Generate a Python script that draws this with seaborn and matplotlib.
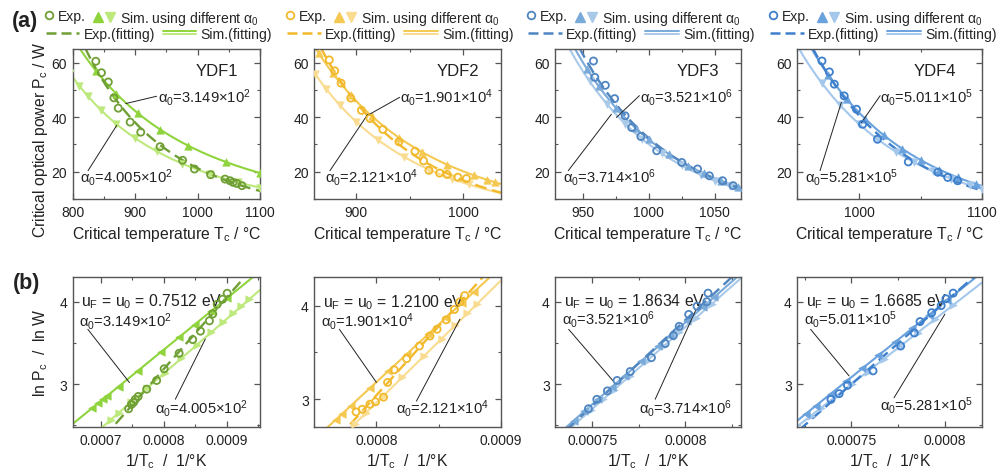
import numpy as np
import matplotlib
matplotlib.use("Agg")
import matplotlib.pyplot as plt
import seaborn as sns
from matplotlib.lines import Line2D
from matplotlib.legend_handler import HandlerBase, HandlerTuple
from matplotlib.ticker import MultipleLocator, FuncFormatter

sns.set_theme(style="ticks")
plt.rcParams["font.family"] = ["Liberation Sans", "DejaVu Sans"]
plt.rcParams["mathtext.fontset"] = "custom"
plt.rcParams["mathtext.rm"] = "Liberation Sans"
plt.rcParams["mathtext.it"] = "Liberation Sans:italic"

# ---------------- data (T in degC, P in W) ----------------
names = ["YDF1", "YDF2", "YDF3", "YDF4"]

exp_T1 = [837, 846, 857, 866, 873, 892, 909, 940, 976, 995, 1021, 1044, 1052, 1057, 1063, 1071]
exp_P1 = [60.5, 56.3, 52.9, 47.1, 43.3, 38.2, 34.5, 29.2, 24.2, 21.0, 18.9, 17.3, 16.7, 16.1, 15.7, 14.9]
simA_T1 = [838, 870, 905, 940, 985, 1045, 1100, 1135, 1150, 1165, 1185]
simA_P1 = [56.8, 48.6, 41.4, 35.4, 29.6, 23.6, 19.5, 17.4, 16.7, 15.9, 15.1]
simB_T1 = [795, 810, 825, 845, 870, 900, 935, 975, 1020, 1065, 1100, 1125]
simB_P1 = [56.2, 51.6, 47.7, 42.6, 37.6, 32.3, 27.5, 23.0, 19.1, 16.1, 14.2, 13.0]

exp_T2 = [875, 880, 886, 895, 905, 913, 925, 940, 955, 963, 968, 978, 985, 995, 1003]
exp_P2 = [61.0, 57.0, 52.5, 47.0, 42.5, 39.5, 35.5, 31.0, 27.5, 24.0, 20.5, 19.5, 19.0, 18.0, 17.5]
simA_T2 = [865, 878, 895, 915, 940, 962, 985, 1010, 1022, 1030]
simA_P2 = [63.6, 56.2, 48.1, 40.3, 32.5, 27.1, 22.6, 18.7, 17.1, 16.1]
simB_T2 = [862, 872, 885, 900, 920, 945, 968, 990, 1005]
simB_P2 = [55.8, 50.4, 44.3, 38.4, 31.8, 25.4, 20.8, 17.3, 15.4]

exp_T3 = [958, 959, 967, 974, 982, 987, 994, 1006, 1025, 1037, 1046, 1056, 1064]
exp_P3 = [60.6, 54.6, 51.7, 46.8, 40.5, 36.2, 32.9, 27.7, 23.4, 21.0, 18.5, 16.7, 14.9]
simA_T3 = [953, 962, 975, 990, 1000, 1015, 1030, 1042, 1055, 1068, 1078]
simA_P3 = [57.7, 51.3, 43.4, 35.9, 31.9, 26.5, 22.2, 19.4, 16.7, 14.5, 12.9]
simB_T3 = [955, 968, 982, 995, 1010, 1025, 1040, 1050, 1062]
simB_P3 = [53.1, 44.9, 37.6, 32.0, 26.7, 22.3, 18.7, 16.7, 14.6]

exp_T4 = [970, 976, 980, 988, 998, 1003, 1015, 1040, 1064, 1072, 1080]
exp_P4 = [60.6, 56.6, 52.1, 47.8, 42.9, 37.4, 31.9, 23.6, 19.8, 17.9, 16.7]
simA_T4 = [975, 990, 1005, 1020, 1035, 1050, 1065, 1080, 1095, 1105]
simA_P4 = [55.5, 46.7, 39.5, 33.4, 28.5, 24.3, 20.8, 17.9, 15.5, 14.0]
simB_T4 = [970, 985, 1000, 1015, 1030, 1045, 1060, 1075, 1090, 1100]
simB_P4 = [52.5, 44.3, 37.5, 31.9, 27.3, 23.4, 20.1, 17.4, 15.0, 13.7]

alpha_A = [r"3.149×10$^\mathregular{2}$", r"1.901×10$^\mathregular{4}$",
           r"3.521×10$^\mathregular{6}$", r"5.011×10$^\mathregular{5}$"]
alpha_B = [r"4.005×10$^\mathregular{2}$", r"2.121×10$^\mathregular{4}$",
           r"3.714×10$^\mathregular{6}$", r"5.281×10$^\mathregular{5}$"]
u_vals = ["0.7512", "1.2100", "1.8634", "1.6685"]

c_exp = ["#6f9f35", "#f1b92c", "#4f85c0", "#3f80cc"]
c_simA = ["#8fd43c", "#f5c851", "#79aad9", "#6aa2dd"]
c_simB = ["#bde97c", "#f9dc90", "#a9c9e8", "#a4c7ec"]

exp_T = [exp_T1, exp_T2, exp_T3, exp_T4]
exp_P = [exp_P1, exp_P2, exp_P3, exp_P4]
simA_T = [simA_T1, simA_T2, simA_T3, simA_T4]
simA_P = [simA_P1, simA_P2, simA_P3, simA_P4]
simB_T = [simB_T1, simB_T2, simB_T3, simB_T4]
simB_P = [simB_P1, simB_P2, simB_P3, simB_P4]

top_xlim = [(800, 1100), (861, 1035), (929, 1070), (950, 1100)]
top_major = [100, 100, 50, 100]
bot_xlim = [(0.000655, 0.000953), (0.00075, 0.0009), (0.00073, 0.00083), (0.000721, 0.00082)]
bot_ylim = [(2.48, 4.3), (2.70, 4.31), (2.48, 4.3), (2.48, 4.3)]
bot_major = [0.0001, 0.0001, 0.00005, 0.00005]

T0 = 273.15


def inv(T):
    return 1.0 / (np.asarray(T, float) + T0)


# ---------------- legend helper ----------------
class DoubleLine:
    def __init__(self, c1, c2):
        self.c1, self.c2 = c1, c2


class HandlerDouble(HandlerBase):
    def create_artists(self, legend, orig, xdescent, ydescent, width, height, fontsize, trans):
        y = (height - ydescent) / 2.0
        g = height * 0.16
        x = [-xdescent, -xdescent + width]
        l1 = Line2D(x, [y + g, y + g], color=orig.c1, lw=1.4, transform=trans)
        l2 = Line2D(x, [y - g, y - g], color=orig.c2, lw=1.4, transform=trans)
        return [l1, l2]


W, H = 1003.0, 477.0
fig = plt.figure(figsize=(10.03, 4.77), dpi=100)
lefts = [72.7, 314.3, 555.3, 797.3]
widths = [187.3, 186.4, 185.7, 185.0]

spine_c = "#555555"
txt_c = "#222222"
fs_tick = 10
fs_lab = 11.3
fs_ann = 10.6
fs_leg = 10.1

top_ann = [
    [(0.455, 0.68), (0.448, 0.685), (885, 45.0), (0.04, 0.153), (0.082, 0.189), (870.5, 37.0)],
    [(0.46, 0.68), (0.458, 0.678), (910, 40.5), (0.057, 0.153), (0.084, 0.189), (911, 41.1)],
    [(0.457, 0.68), (0.453, 0.689), (975.4, 39.9), (0.041, 0.153), (0.07, 0.189), (971.6, 41.1)],
    [(0.447, 0.68), (0.448, 0.689), (1002, 38.0), (0.041, 0.153), (0.123, 0.189), (985.7, 45.4)],
]
bot_ann = [
    [(0.045, 0.84), (0.036, 0.713), (0.081, 0.651), (0.0007452, 3.02), (0.44, 0.133), (0.548, 0.185), (0.000866, 3.547)],
    [(0.045, 0.833), (0.036, 0.713), (0.135, 0.651), (0.0008, 3.178), (0.44, 0.127), (0.548, 0.173), (0.0008672, 3.857)],
    [(0.045, 0.84), (0.036, 0.72), (0.072, 0.651), (0.0007611, 3.04), (0.45, 0.127), (0.538, 0.185), (0.0008059, 3.911)],
    [(0.047, 0.84), (0.035, 0.72), (0.072, 0.651), (0.0007487, 3.10), (0.446, 0.153), (0.523, 0.195), (0.0008, 3.85)],
]


def style_axes(ax):
    for s in ax.spines.values():
        s.set_color(spine_c)
        s.set_linewidth(1.0)
    ax.tick_params(which="both", direction="in", top=True, right=True, colors=spine_c,
                   labelcolor=txt_c, labelsize=fs_tick, pad=4)
    ax.tick_params(which="major", length=4, width=0.9)
    ax.tick_params(which="minor", length=2.5, width=0.8)


def leader(ax, start, target):
    ax.annotate("", xy=target, xycoords="data", xytext=start, textcoords="axes fraction",
                arrowprops=dict(arrowstyle="-", lw=0.7, color=txt_c, shrinkA=0, shrinkB=0))


for i in range(4):
    l, w = lefts[i], widths[i]
    axt = fig.add_axes([l / W, (H - 200) / H, w / W, 150 / H])
    axb = fig.add_axes([l / W, (H - 428) / H, w / W, 150 / H])

    eT, eP = np.array(exp_T[i], float), np.array(exp_P[i], float)
    aT, aP = np.array(simA_T[i], float), np.array(simA_P[i], float)
    bT, bP = np.array(simB_T[i], float), np.array(simB_P[i], float)

    fits = {}
    for key, (TT, PP) in {"exp": (eT, eP), "A": (aT, aP), "B": (bT, bP)}.items():
        fits[key] = np.polyfit(inv(TT), np.log(PP), 1)

    # ---------- top panel ----------
    x0, x1 = top_xlim[i]
    Tg = np.linspace(x0 - 40, x1 + 40, 400)
    for key, col, ls, lw in [("B", c_simB[i], "-", 1.5), ("A", c_simA[i], "-", 1.5),
                             ("exp", c_exp[i], (0, (5, 2.5)), 1.7)]:
        sl, ic = fits[key]
        sns.lineplot(x=Tg, y=np.exp(ic + sl * inv(Tg)), ax=axt, color=col, lw=lw,
                     linestyle=ls, estimator=None, sort=False)
    sns.scatterplot(x=bT, y=bP, ax=axt, marker="v", s=28, color=c_simB[i], edgecolor=c_simB[i],
                    linewidth=0.5, zorder=3)
    sns.scatterplot(x=aT, y=aP, ax=axt, marker="^", s=28, color=c_simA[i], edgecolor=c_simA[i],
                    linewidth=0.5, zorder=3)
    sns.scatterplot(x=eT, y=eP, ax=axt, marker="o", s=26, facecolor="none", edgecolor=c_exp[i],
                    linewidth=1.3, zorder=4)
    axt.set_xlim(x0, x1)
    axt.set_ylim(10, 65)
    axt.xaxis.set_major_locator(MultipleLocator(top_major[i]))
    axt.xaxis.set_minor_locator(MultipleLocator(top_major[i] / 2))
    axt.yaxis.set_major_locator(MultipleLocator(20))
    axt.yaxis.set_minor_locator(MultipleLocator(10))
    style_axes(axt)
    axt.set_xlabel(r"Critical temperature T$_\mathregular{c}$ / °C", fontsize=fs_lab, color=txt_c)
    axt.xaxis.set_label_coords(0.5, -0.165)
    axt.xaxis.label.set_va("top")
    axt.set_ylabel("")
    axt.text(0.77 if i < 3 else 0.745, 0.86, names[i], transform=axt.transAxes, ha="center",
             va="center", fontsize=12, color=txt_c)
    ta = top_ann[i]
    axt.text(ta[0][0], ta[0][1], r"α$_\mathregular{0}$=" + alpha_A[i], transform=axt.transAxes,
             ha="left", va="center", fontsize=fs_ann, color=txt_c)
    leader(axt, ta[1], ta[2])
    axt.text(ta[3][0], ta[3][1], r"α$_\mathregular{0}$=" + alpha_B[i], transform=axt.transAxes,
             ha="left", va="center", fontsize=fs_ann, color=txt_c)
    leader(axt, ta[4], ta[5])

    # ---------- bottom panel ----------
    bx0, bx1 = bot_xlim[i]
    xg = np.linspace(bx0 - 0.00003, bx1 + 0.00003, 200)
    for key, col, ls, lw in [("B", c_simB[i], "-", 1.5), ("A", c_simA[i], "-", 1.5),
                             ("exp", c_exp[i], (0, (5, 2.5)), 1.7)]:
        sl, ic = fits[key]
        sns.lineplot(x=xg, y=ic + sl * xg, ax=axb, color=col, lw=lw, linestyle=ls,
                     estimator=None, sort=False)
    sns.scatterplot(x=inv(bT), y=np.log(bP), ax=axb, marker=">", s=28, color=c_simB[i],
                    edgecolor=c_simB[i], linewidth=0.5, zorder=3)
    sns.scatterplot(x=inv(aT), y=np.log(aP), ax=axb, marker="<", s=28, color=c_simA[i],
                    edgecolor=c_simA[i], linewidth=0.5, zorder=3)
    sns.scatterplot(x=inv(eT), y=np.log(eP), ax=axb, marker="o", s=26, facecolor="none",
                    edgecolor=c_exp[i], linewidth=1.3, zorder=4)
    axb.set_xlim(bx0, bx1)
    axb.set_ylim(*bot_ylim[i])
    axb.xaxis.set_major_locator(MultipleLocator(bot_major[i]))
    axb.xaxis.set_minor_locator(MultipleLocator(bot_major[i] / 2))
    axb.xaxis.set_major_formatter(FuncFormatter(lambda v, p: ("%.5f" % v).rstrip("0")))
    axb.yaxis.set_major_locator(MultipleLocator(1))
    axb.yaxis.set_minor_locator(MultipleLocator(0.5))
    axb.yaxis.set_major_formatter(FuncFormatter(lambda v, p: "%g" % v))
    style_axes(axb)
    axb.set_xlabel(r"1/T$_\mathregular{c}$  /  1/°K", fontsize=fs_lab, color=txt_c)
    axb.xaxis.set_label_coords(0.5, -0.16)
    axb.xaxis.label.set_va("top")
    axb.set_ylabel("")
    ba = bot_ann[i]
    axb.text(ba[0][0], ba[0][1], r"u$_\mathregular{F}$ = u$_\mathregular{0}$ = " + u_vals[i] + " eV",
             transform=axb.transAxes, ha="left", va="center", fontsize=11.3, color=txt_c)
    axb.text(ba[1][0], ba[1][1], r"α$_\mathregular{0}$=" + alpha_A[i], transform=axb.transAxes,
             ha="left", va="center", fontsize=fs_ann, color=txt_c)
    leader(axb, ba[2], ba[3])
    axb.text(ba[4][0], ba[4][1], r"α$_\mathregular{0}$=" + alpha_B[i], transform=axb.transAxes,
             ha="left", va="center", fontsize=fs_ann, color=txt_c)
    leader(axb, ba[5], ba[6])

    if i == 0:
        axt.set_ylabel(r"Critical optical power P$_\mathregular{c}$ / W", fontsize=fs_lab, color=txt_c)
        axt.yaxis.set_label_coords(-0.12, 0.4)
        axb.set_ylabel(r"ln P$_\mathregular{c}$  /  ln W", fontsize=fs_lab, color=txt_c)
        axb.yaxis.set_label_coords(-0.12, 0.5)

    # ---------- legends above each column ----------
    h_exp = Line2D([], [], ls="none", marker="o", mfc="none", mec=c_exp[i], mew=1.3, ms=5.5)
    h_a = Line2D([], [], ls="none", marker="^", color=c_simA[i], ms=7)
    h_b = Line2D([], [], ls="none", marker="v", color=c_simB[i], ms=7)
    h_ef = Line2D([], [], ls=(0, (4, 2)), color=c_exp[i], lw=1.8)
    h_sf = DoubleLine(c_simA[i], c_simB[i])
    common = dict(loc="upper left", frameon=False, fontsize=fs_leg, borderpad=0, borderaxespad=0,
                  handletextpad=0.3)
    fig.legend([h_exp], ["Exp."], bbox_to_anchor=((l - 29) / W, 1 - 9.5 / H),
               handlelength=0.7, **common)
    fig.legend([(h_a, h_b)], [r"Sim. using different α$_\mathregular{0}$"],
               bbox_to_anchor=((l + 19) / W, 1 - 9.5 / H), handlelength=1.7,
               handler_map={tuple: HandlerTuple(ndivide=None, pad=0.0)}, **common)
    fig.legend([h_ef], ["Exp.(fitting)"], bbox_to_anchor=((l - 27) / W, 1 - 27.5 / H),
               handlelength=2.4, **common)
    fig.legend([h_sf], ["Sim.(fitting)"], bbox_to_anchor=((l + 90) / W, 1 - 27.5 / H),
               handlelength=2.4, handler_map={DoubleLine: HandlerDouble()}, **common)

fig.text(25 / W, 1 - 21 / H, "(a)", fontsize=15.5, fontweight="bold", ha="center", va="center",
         color=txt_c)
fig.text(27 / W, 1 - 284 / H, "(b)", fontsize=15.5, fontweight="bold", ha="center", va="center",
         color=txt_c)

fig.savefig("out.png", dpi=100, facecolor="white")
